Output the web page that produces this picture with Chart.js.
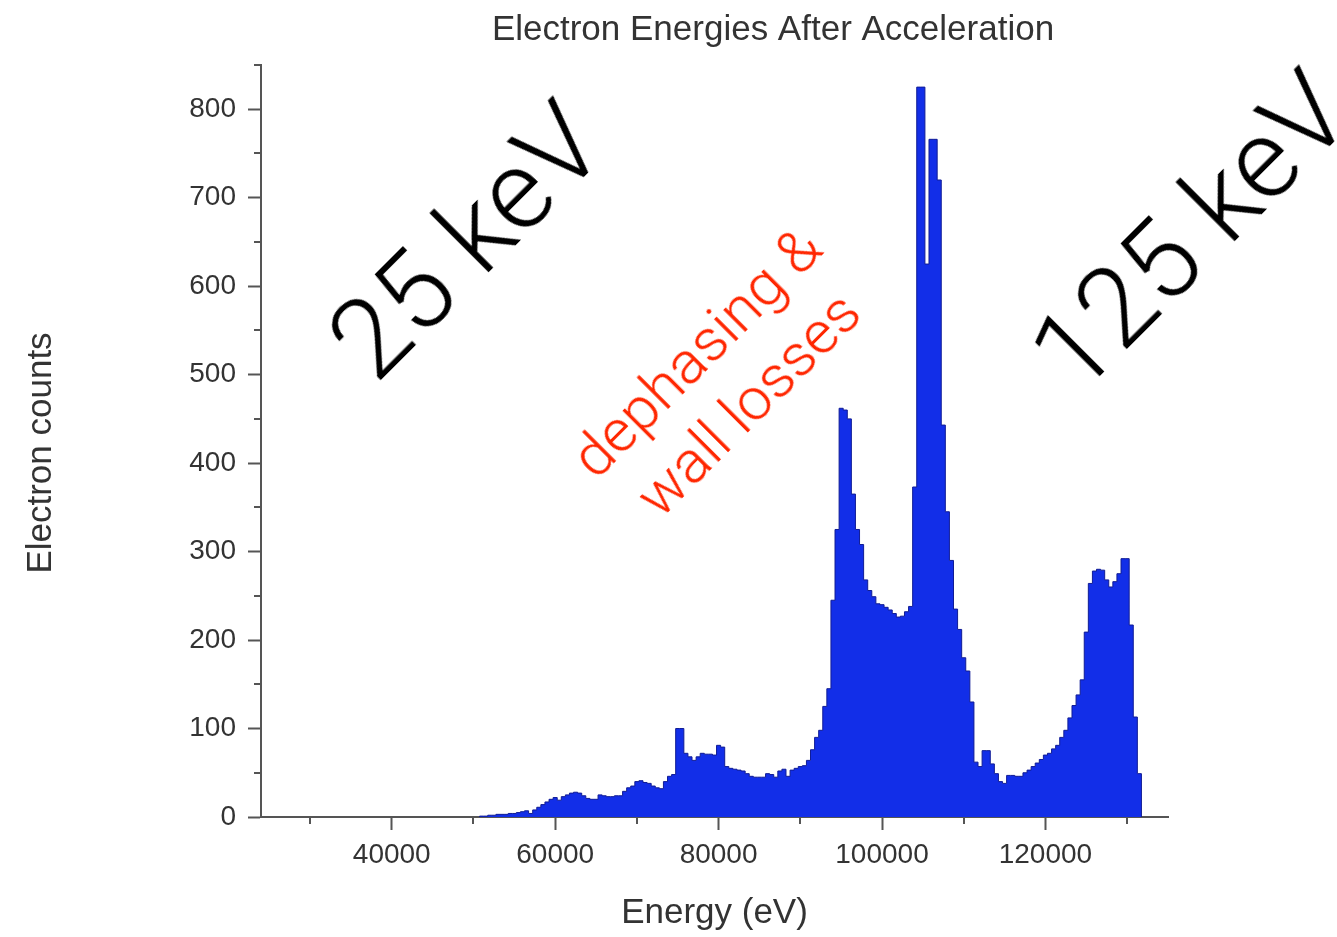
<!DOCTYPE html>
<html>
<head>
<meta charset="utf-8">
<title>Electron Energies After Acceleration</title>
<script src="https://cdn.jsdelivr.net/npm/chart.js@4.4.1/dist/chart.umd.min.js"></script>
<style>
  html, body { margin: 0; padding: 0; background: #fff; }
  #wrap { position: relative; width: 1337px; height: 937px; overflow: hidden; }
  #c { position: absolute; left: 0; top: 0; }
  .note {
    position: absolute;
    white-space: nowrap;
    transform: translate(-50%, -50%) rotate(-45deg);
    font-family: "Helvetica Neue", "Roboto", "Lato", "Open Sans", sans-serif;
    font-weight: 300;
    line-height: 1;
  }
  #lo   { left: 466px;  top: 241px; font-size: 112px; color: #000; }
  #hi   { left: 1190px; top: 232px; font-size: 112px; color: #000; }
  #loss { left: 722px;  top: 378px; font-size: 60px; color: #ff2600; text-align: center; line-height: 1.22; }
</style>
</head>
<body>
<div id="wrap">
  <canvas id="c" width="1337" height="937"></canvas>
  <div class="note" id="lo">25 keV</div>
  <div class="note" id="hi">125 keV</div>
  <div class="note" id="loss">dephasing &amp;<br>wall losses</div>
</div>
<script>
// Histogram: electron counts per 500 eV energy bin
const BIN_WIDTH = 500;     // eV
const FIRST_BIN = 51000;   // centre of the first bin, eV

const counts = [
  1, 1, 2, 2, 3, 3, 3, 4, 4, 5,            // 51.0 - 55.5 keV
  6, 7, 4, 8, 11, 14, 17, 20, 22, 19,      // 56.0 - 60.5
  23, 25, 27, 28, 27, 24, 21, 20, 20, 25,  // 61.0 - 65.5
  24, 23, 23, 24, 24, 29, 33, 35, 40, 41,  // 66.0 - 70.5
  39, 38, 35, 33, 32, 40, 46, 48, 100, 100,// 71.0 - 75.5
  72, 68, 64, 68, 72, 71, 71, 70, 81, 79,  // 76.0 - 80.5
  57, 55, 54, 53, 52, 49, 46, 45, 45, 45,  // 81.0 - 85.5
  49, 48, 45, 52, 54, 46, 53, 55, 57, 58,  // 86.0 - 90.5
  64, 76, 90, 98, 125, 145, 245, 325, 462, 460,   // 91.0 - 95.5
  450, 365, 325, 308, 268, 256, 249, 241, 240, 237, // 96.0 - 100.5
  234, 230, 226, 227, 232, 238, 373, 825, 825, 625, // 101.0 - 105.5
  766, 766, 720, 443, 345, 290, 235, 212, 180, 165, // 106.0 - 110.5
  130, 62, 57, 75, 75, 60, 49, 40, 38, 47,  // 111.0 - 115.5
  47, 46, 46, 50, 53, 57, 61, 65, 70, 72,   // 116.0 - 120.5
  77, 81, 90, 98, 112, 126, 138, 155, 209, 264,   // 121.0 - 125.5
  278, 280, 279, 268, 260, 266, 275, 292, 292, 217, // 126.0 - 130.5
  113, 49                                   // 131.0 - 131.5
];

// Axis ranges and tick values
const energyRange = [24000, 135000];
const countRange  = [0, 850];
const energyMajorTicks = [40000, 60000, 80000, 100000, 120000];
const energyMinorTicks = [30000, 50000, 70000, 90000, 110000, 130000];
const countMajorTicks  = [0, 100, 200, 300, 400, 500, 600, 700, 800];
const countMinorTicks  = [50, 150, 250, 350, 450, 550, 650, 750, 850];

const TITLE   = 'Electron Energies After Acceleration';
const X_TITLE = 'Energy (eV)';
const Y_TITLE = 'Electron counts';

const AXIS_COLOUR = '#555555';
const TEXT_COLOUR = '#333333';
const FILL_COLOUR = 'rgb(18, 46, 232)';
const EDGE_COLOUR = 'rgb(16, 28, 150)';
const FONT_FAMILY = '"Liberation Sans", Arimo, Arial, Helvetica, sans-serif';

// Stepped outline: one point at each bin's left edge, closed down to zero at both ends
const binCentres = counts.map((_, i) => FIRST_BIN + i * BIN_WIDTH);
const half = BIN_WIDTH / 2;
const outline = [{ x: binCentres[0] - half, y: 0 }];
binCentres.forEach((c, i) => outline.push({ x: c - half, y: counts[i] }));
const lastEdge = binCentres[binCentres.length - 1] + half;
outline.push({ x: lastEdge, y: counts[counts.length - 1] });
outline.push({ x: lastEdge, y: 0 });

// Minor ticks and the free-standing titles
const decorations = {
  id: 'decorations',
  afterDraw(chart) {
    const { ctx, scales: { x, y } } = chart;
    ctx.save();
    ctx.strokeStyle = AXIS_COLOUR;
    ctx.lineWidth = 2;
    ctx.beginPath();
    energyMinorTicks.forEach(v => {
      const px = Math.round(x.getPixelForValue(v));
      ctx.moveTo(px, y.bottom);
      ctx.lineTo(px, y.bottom + 7);
    });
    countMinorTicks.forEach(v => {
      const py = Math.round(y.getPixelForValue(v));
      ctx.moveTo(x.left, py);
      ctx.lineTo(x.left - 7, py);
    });
    ctx.stroke();

    ctx.fillStyle = TEXT_COLOUR;
    ctx.textAlign = 'center';
    ctx.textBaseline = 'alphabetic';
    ctx.font = '35px ' + FONT_FAMILY;
    ctx.fillText(TITLE, 773, 40);
    ctx.fillText(X_TITLE, (x.left + x.right) / 2, 923);

    ctx.translate(51, 453);
    ctx.rotate(-Math.PI / 2);
    ctx.fillText(Y_TITLE, 0, 0);
    ctx.restore();
  }
};

const tickFont = { family: FONT_FAMILY, size: 28 };

new Chart(document.getElementById('c'), {
  type: 'line',
  data: {
    datasets: [{
      label: 'Electron counts',
      data: outline,
      stepped: true,
      fill: 'origin',
      backgroundColor: FILL_COLOUR,
      borderColor: EDGE_COLOUR,
      borderWidth: 1,
      pointRadius: 0,
      pointHoverRadius: 0
    }]
  },
  options: {
    responsive: false,
    animation: false,
    devicePixelRatio: 1,
    events: [],
    layout: { padding: { top: 65, right: 169, left: 0, bottom: 0 } },
    plugins: {
      legend: { display: false },
      title: { display: false },
      tooltip: { enabled: false }
    },
    scales: {
      x: {
        type: 'linear',
        min: energyRange[0],
        max: energyRange[1],
        afterBuildTicks(scale) { scale.ticks = energyMajorTicks.map(v => ({ value: v })); },
        afterFit(scale) { scale.height = 120; },
        border: { color: AXIS_COLOUR, width: 2 },
        grid: { drawOnChartArea: false, tickLength: 13, tickColor: AXIS_COLOUR, tickWidth: 2 },
        ticks: {
          autoSkip: false,
          maxRotation: 0,
          padding: 8,
          color: TEXT_COLOUR,
          font: tickFont,
          callback: v => String(v)
        }
      },
      y: {
        type: 'linear',
        min: countRange[0],
        max: countRange[1],
        afterBuildTicks(scale) { scale.ticks = countMajorTicks.map(v => ({ value: v })); },
        afterFit(scale) { scale.width = 261; },
        border: { color: AXIS_COLOUR, width: 2 },
        grid: { drawOnChartArea: false, tickLength: 13, tickColor: AXIS_COLOUR, tickWidth: 2 },
        ticks: {
          autoSkip: false,
          padding: 12,
          color: TEXT_COLOUR,
          font: tickFont,
          callback: v => String(v)
        }
      }
    }
  },
  plugins: [decorations]
});
</script>
</body>
</html>
